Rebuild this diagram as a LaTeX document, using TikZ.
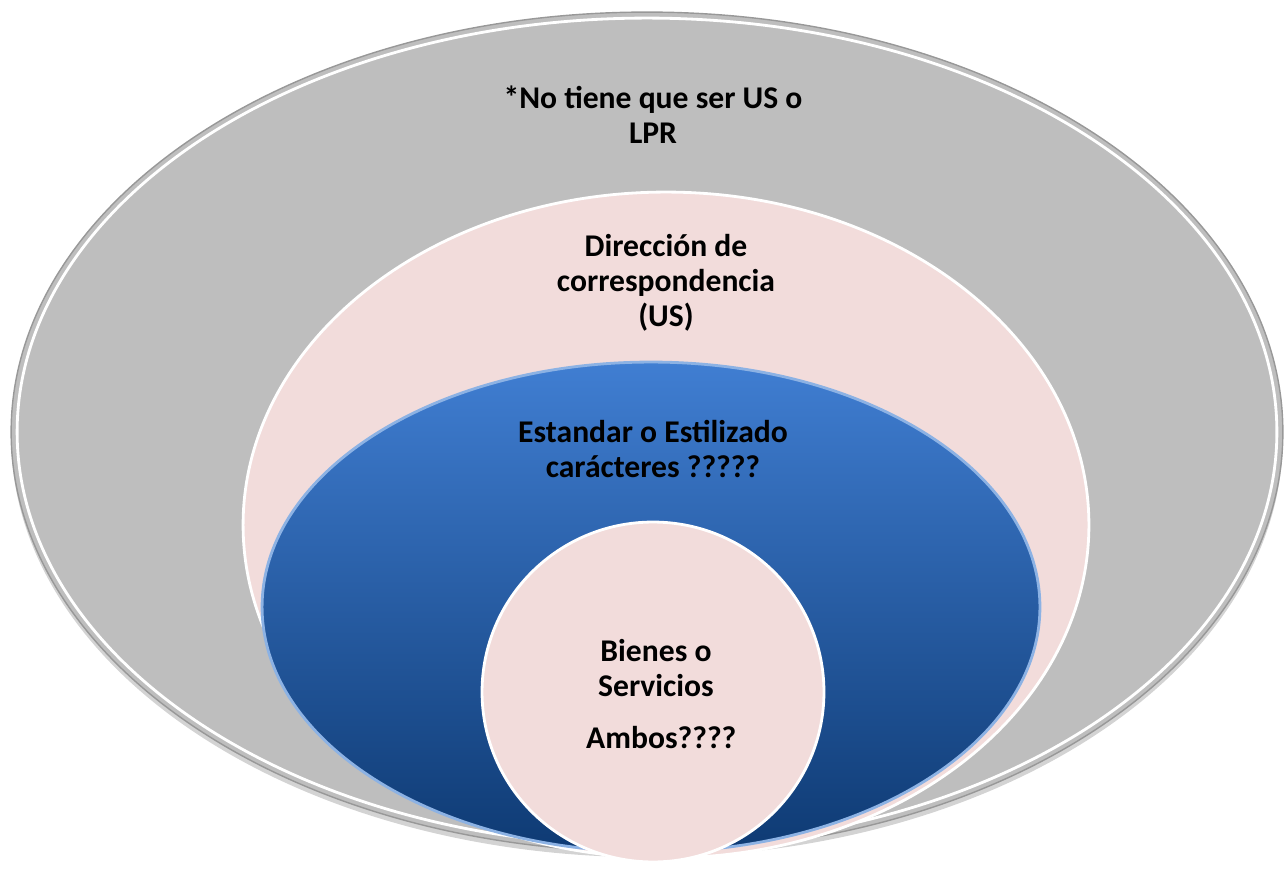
\documentclass[tikz,border=0pt]{standalone}
\usepackage{fontspec}
\setmainfont{Carlito}
\usepackage{tikz}
\definecolor{gris}{RGB}{190, 190, 190}
\definecolor{rosa}{RGB}{242, 220, 219}
\definecolor{azularriba}{RGB}{64, 126, 210}
\definecolor{azulabajo}{RGB}{14, 58, 115}
\usetikzlibrary{positioning}
\usetikzlibrary{shapes.geometric}
\usetikzlibrary{shadows}

\begin{document}
\begin{tikzpicture}
				[x=0.02cm,y=-0.02cm,every node/.style={inner sep=0pt},
				 capa/.style={ellipse, draw=white, line width=1.6pt},
				 texto/.style={align=center, font=\fontsize{18}{20}\selectfont\bfseries}]
				\useasboundingbox (0, 0) rectangle (1287, 871);
				\node (1) [capa, minimum width=25.44cm, minimum height=16.8cm, fill=gris, draw=gris!80!black, line width=0.8pt, drop shadow={opacity=0.35, shadow xshift=0pt, shadow yshift=-3pt}] at (647, 432) {};
				\node (1b) [capa, minimum width=25.2cm, minimum height=16.56cm] at (647, 432) {};
				\node (2) [capa, minimum width=16.92cm, minimum height=13.32cm, fill=rosa] at (666, 525) {};
				\node (3) [capa, minimum width=15.56cm, minimum height=9.8cm, top color=azularriba, bottom color=azulabajo, draw=azularriba!60!white] at (651, 607) {};
				\node (4) [capa, minimum width=6.84cm, minimum height=6.8cm, fill=rosa] at (653, 692) {};
				\node (t1) [texto] at (653, 115) {*No tiene que ser US o\\LPR};
				\node (t2) [texto] at (666, 283) {Dirección de\\correspondencia\\(US)};
				\node (t3) [texto] at (653, 449) {Estandar o Estilizado\\carácteres ?????};
				\node (t4) [texto] at (656, 694) {Bienes o\\Servicios\\[10pt]\,\,Ambos????};
		\end{tikzpicture}
\end{document}
